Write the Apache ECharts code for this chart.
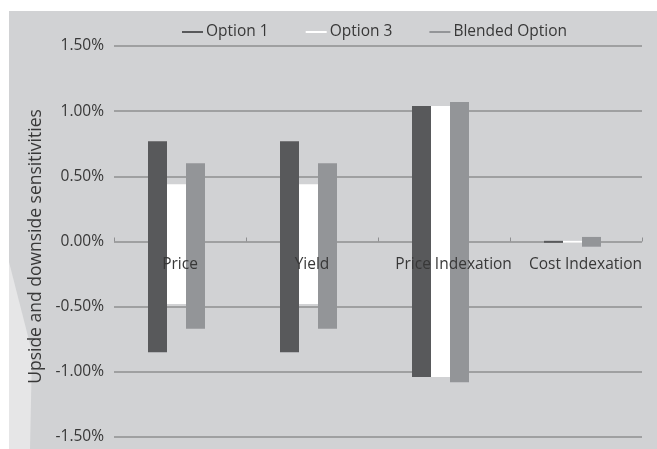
<!DOCTYPE html>
<html>
<head>
<meta charset="utf-8">
<script src="https://cdn.jsdelivr.net/npm/echarts@6/dist/echarts.min.js"></script>
<style>
html,body{margin:0;padding:0;background:#ffffff;}
#chart{width:657px;height:449px;}
</style>
</head>
<body>
<div id="chart"></div>
<script>
// ---- data ----
var categories = ['Price', 'Yield', 'Price Indexation', 'Cost Indexation'];
var seriesNames = ['Option 1', 'Option 3', 'Blended Option'];
var option1Up   = [0.77, 0.77, 1.04, 0.005];
var option1Down = [-0.85, -0.85, -1.04, -0.01];
var option3Up   = [0.44, 0.44, 1.04, 0.005];
var option3Down = [-0.48, -0.48, -1.04, -0.01];
var blendedUp   = [0.60, 0.60, 1.07, 0.035];
var blendedDown = [-0.67, -0.67, -1.08, -0.04];
var yTicks = [-1.5, -1.0, -0.5, 0, 0.5, 1.0, 1.5];

// ---- styling ----
var colors = ['#58595b', '#ffffff', '#939598'];
var gridColor = '#8e8f91';
var textColor = '#383838';
var fontFamily = '"Open Sans", "Noto Sans", sans-serif';

var chart = echarts.init(document.getElementById('chart'), null, {renderer: 'canvas'});

var upData = [option1Up, option3Up, blendedUp];
var downData = [option1Down, option3Down, blendedDown];
var series = [];
seriesNames.forEach(function (name, i) {
  // invisible base from 0 down to the downside value
  series.push({
    type: 'bar', stack: 's' + i, stackStrategy: 'all',
    data: downData[i], barWidth: 19, barGap: '0%',
    itemStyle: {color: 'rgba(0,0,0,0)'}, silent: true, z: 2
  });
  // visible range: downside -> upside
  series.push({
    name: name, type: 'bar', stack: 's' + i, stackStrategy: 'all',
    data: upData[i].map(function (u, k) { return u - downData[i][k]; }),
    barWidth: 19, barGap: '0%',
    itemStyle: {color: colors[i]},
    emphasis: {disabled: true}, z: 2
  });
});
// spacer stack to reproduce the slight left offset of each bar group
series.push({type: 'bar', stack: 'spacer', data: [], barWidth: 7, barGap: '0%', silent: true});

chart.setOption({
  animation: false,
  backgroundColor: '#ffffff',
  graphic: [
    {type: 'rect', shape: {x: 9, y: 11, width: 648, height: 438}, style: {fill: '#d1d2d4'}, z: -10, silent: true},
    {type: 'polygon', shape: {points: [[9, 262], [32, 352], [30, 449], [9, 449]]}, style: {fill: '#e6e6e7'}, z: -9, silent: true}
  ],
  legend: {
    data: seriesNames,
    left: 177,
    top: 19,
    icon: 'rect',
    itemWidth: 21,
    itemHeight: 2,
    itemGap: 37,
    textStyle: {fontFamily: fontFamily, fontSize: 15.5, color: textColor, padding: [0, 0, 0, -2]},
    selectedMode: false
  },
  grid: {left: 114, right: 15, top: 46, bottom: 12, containLabel: false, outerBoundsMode: 'none'},
  xAxis: [
    {
      // category ticks on the zero line
      type: 'category',
      data: categories,
      position: 'top',
      z: 1,
      axisLine: {show: true, onZero: true, lineStyle: {color: 'rgba(0,0,0,0)'}},
      axisTick: {show: true, inside: false, length: 4, lineStyle: {color: gridColor, width: 1}},
      axisLabel: {show: false},
      splitLine: {show: false}
    },
    {
      // category labels just below the zero line, drawn above the bars
      type: 'category',
      data: categories,
      position: 'bottom',
      z: 10,
      axisLine: {show: false, onZero: false},
      axisTick: {show: false},
      axisLabel: {
        show: true, margin: -180, fontFamily: fontFamily, fontSize: 15.5, color: textColor, interval: 0,
        formatter: function (v) { return v.length > 10 ? '{pad|}' + v : v; },
        rich: {pad: {width: 19}}
      },
      splitLine: {show: false}
    }
  ],
  yAxis: {
    type: 'value',
    min: yTicks[0],
    max: yTicks[yTicks.length - 1],
    interval: 0.5,
    name: 'Upside and downside sensitivities',
    nameLocation: 'middle',
    nameGap: 68,
    nameTextStyle: {fontFamily: fontFamily, fontSize: 17.5, color: textColor, padding: [0, 10, 0, 0]},
    axisLine: {show: false},
    axisTick: {show: false},
    axisLabel: {
      margin: 10,
      fontFamily: fontFamily, fontSize: 15.5, color: textColor,
      formatter: function (v) { return v.toFixed(2) + '%'; }
    },
    splitLine: {show: true, lineStyle: {color: gridColor, width: 1.6}}
  },
  series: series
});
</script>
</body>
</html>
